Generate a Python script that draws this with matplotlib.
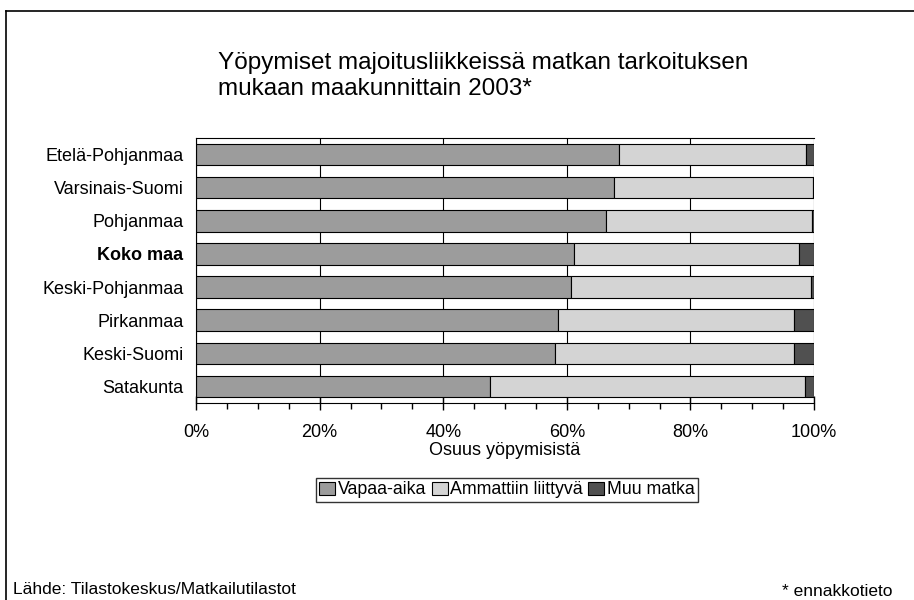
import numpy as np
import matplotlib.pyplot as plt
from matplotlib.lines import Line2D
from matplotlib.ticker import MultipleLocator, FuncFormatter

plt.rcParams['font.family'] = ['Liberation Sans', 'DejaVu Sans']

regions = ['Etelä-Pohjanmaa', 'Varsinais-Suomi', 'Pohjanmaa', 'Koko maa',
           'Keski-Pohjanmaa', 'Pirkanmaa', 'Keski-Suomi', 'Satakunta']
vapaa = [68.4, 67.6, 66.3, 61.2, 60.6, 58.5, 58.1, 47.6]
ammatti = [30.3, 32.2, 33.3, 36.4, 38.9, 38.2, 38.6, 50.9]
muu = [1.3, 0.2, 0.4, 2.4, 0.5, 3.3, 3.3, 1.5]
series = ['Vapaa-aika', 'Ammattiin liittyvä', 'Muu matka']
colors = ['#9c9c9c', '#d4d4d4', '#505050']

W, H = 914, 600
fig = plt.figure(figsize=(W / 100, H / 100), dpi=100)
# plot area in pixels: x 196..814, y 138..403
ax = fig.add_axes([196 / W, 1 - 403 / H, (814 - 196) / W, (403 - 138) / H])

y = np.arange(len(regions))
left = np.zeros(len(regions))
for vals, lab, c in zip([vapaa, ammatti, muu], series, colors):
    ax.barh(y, vals, left=left, height=0.65, color=c, edgecolor='black',
            linewidth=0.8, label=lab, zorder=2)
    left = left + np.array(vals)

ax.set_xlim(0, 100)
ax.set_ylim(len(regions) - 0.5, -0.5)
ax.set_yticks(y)
ax.set_yticklabels(regions, fontsize=13)
for t in ax.get_yticklabels():
    if t.get_text() == 'Koko maa':
        t.set_fontweight('bold')
ax.tick_params(axis='y', length=0, pad=9)

ax.xaxis.set_major_locator(MultipleLocator(20))
ax.xaxis.set_minor_locator(MultipleLocator(5))
ax.xaxis.set_major_formatter(FuncFormatter(lambda v, p: f'{v:.0f}%'))
ax.tick_params(axis='x', which='major', direction='inout', length=10,
               labelsize=13, pad=10, width=1)
ax.tick_params(axis='x', which='minor', direction='out', length=4, width=1)
ax.grid(axis='x', color='black', linewidth=0.8, zorder=0)
ax.set_axisbelow(True)
for s in ['top', 'right']:
    ax.spines[s].set_visible(False)
ax.plot([0, 100], [-0.5, -0.5], color='black', linewidth=0.8, clip_on=False)

ax.set_xlabel('Osuus yöpymisistä', fontsize=13, labelpad=1)

fig.text(218 / W, 1 - 52 / H, 'Yöpymiset majoitusliikkeissä matkan tarkoituksen\nmukaan maakunnittain 2003*',
         fontsize=17.5, ha='left', va='top', linespacing=1.25)

leg = fig.legend(loc='center', bbox_to_anchor=(507 / W, 1 - 490 / H), ncol=3,
                 fontsize=12.8, frameon=True, fancybox=False, edgecolor='black',
                 handlelength=0.9, handleheight=0.7, handletextpad=0.15,
                 columnspacing=0.3, borderpad=0.2, borderaxespad=0)
leg.get_frame().set_linewidth(1)

fig.text(13 / W, 1 - 589 / H, 'Lähde: Tilastokeskus/Matkailutilastot', fontsize=12.5,
         ha='left', va='center')
fig.text(893 / W, 1 - 591 / H, '* ennakkotieto', fontsize=12.5, ha='right', va='center')

fig.add_artist(Line2D([6 / W, 1.0], [1 - 11 / H, 1 - 11 / H], color='black', linewidth=1.2,
                      transform=fig.transFigure))
fig.add_artist(Line2D([6 / W, 6 / W], [0.0, 1 - 11 / H], color='black', linewidth=1.2,
                      transform=fig.transFigure))

fig.savefig('out.png', dpi=100)
